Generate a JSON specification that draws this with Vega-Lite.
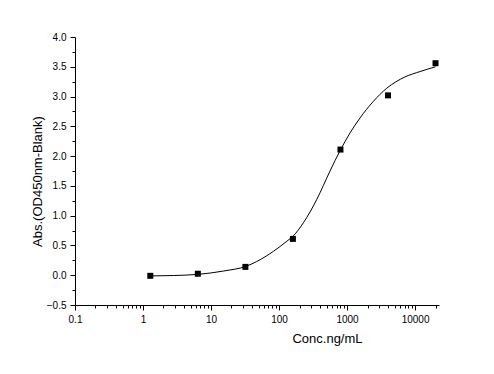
{
  "$schema": "https://vega.github.io/schema/vega-lite/v6.json",
  "autosize": {"type": "none"},
  "padding": {"left": 75, "top": 37, "right": 55, "bottom": 69},
  "width": 364,
  "height": 268,
  "background": "white",
  "config": {
    "view": {"stroke": null},
    "font": "Liberation Sans",
    "axis": {
      "grid": false,
      "domainColor": "black",
      "tickColor": "black",
      "labelColor": "black",
      "titleColor": "black",
      "labelFont": "Liberation Sans",
      "titleFont": "Liberation Sans",
      "labelFontSize": 10,
      "titleFontSize": 13,
      "titleFontWeight": "normal",
      "domainWidth": 1,
      "tickWidth": 1
    }
  },
  "datasets": {
    "points": [
      {"conc": 1.28, "abs": -0.01},
      {"conc": 6.4, "abs": 0.025},
      {"conc": 32, "abs": 0.14},
      {"conc": 160, "abs": 0.61},
      {"conc": 800, "abs": 2.11},
      {"conc": 4000, "abs": 3.02},
      {"conc": 20000, "abs": 3.56}
    ],
    "curve": [
      {"conc": 1.28, "abs": -0.012},
      {"conc": 2.8, "abs": -0.005},
      {"conc": 6.5, "abs": 0.015},
      {"conc": 15.2, "abs": 0.07},
      {"conc": 32.7, "abs": 0.15},
      {"conc": 47, "abs": 0.23},
      {"conc": 82.4, "abs": 0.4},
      {"conc": 130, "abs": 0.57},
      {"conc": 162, "abs": 0.66},
      {"conc": 228, "abs": 0.88},
      {"conc": 358, "abs": 1.27},
      {"conc": 562, "abs": 1.75},
      {"conc": 789, "abs": 2.09},
      {"conc": 1107, "abs": 2.39},
      {"conc": 1552, "abs": 2.64},
      {"conc": 2440, "abs": 2.92},
      {"conc": 3840, "abs": 3.14},
      {"conc": 7130, "abs": 3.33},
      {"conc": 11860, "abs": 3.42},
      {"conc": 20000, "abs": 3.5}
    ]
  },
  "encoding": {
    "x": {
      "field": "conc",
      "type": "quantitative",
      "scale": {"type": "log", "domain": [0.1, 22500], "nice": false},
      "axis": {
        "title": "Conc.ng/mL",
        "titleX": 252,
        "titleY": 27,
        "titleBaseline": "top",
        "titleAnchor": "middle",
        "values": [0.1, 0.2, 0.3, 0.4, 0.5, 0.6, 0.7, 0.8, 0.9, 1, 2, 3, 4, 5, 6, 7, 8, 9, 10, 20, 30, 40, 50, 60, 70, 80, 90, 100, 200, 300, 400, 500, 600, 700, 800, 900, 1000, 2000, 3000, 4000, 5000, 6000, 7000, 8000, 9000, 10000, 20000],
        "labelExpr": "indexof([0.1, 1, 10, 100, 1000, 10000], datum.value) >= 0 ? format(datum.value, '~g') : ''",
        "tickSize": {"condition": {"test": "indexof([0.1, 1, 10, 100, 1000, 10000], datum.value) >= 0", "value": 5}, "value": 3},
        "labelPadding": 4,
        "labelFlush": false,
        "labelOverlap": false
      }
    },
    "y": {
      "field": "abs",
      "type": "quantitative",
      "scale": {"domain": [-0.5, 4], "nice": false, "zero": false},
      "axis": {
        "title": "Abs.(OD450nm-Blank)",
        "titleX": -38,
        "titleY": 144,
        "titleBaseline": "middle",
        "titleAnchor": "middle",
        "titleAngle": -90,
        "values": [-0.5, -0.25, 0, 0.25, 0.5, 0.75, 1, 1.25, 1.5, 1.75, 2, 2.25, 2.5, 2.75, 3, 3.25, 3.5, 3.75, 4],
        "labelExpr": "datum.value % 0.5 == 0 ? format(datum.value, '.1f') : ''",
        "tickSize": {"condition": {"test": "datum.value % 0.5 == 0", "value": 5}, "value": 3},
        "labelPadding": 4,
        "labelFlush": false,
        "labelOverlap": false
      }
    }
  },
  "layer": [
    {
      "data": {"name": "curve"},
      "mark": {"type": "line", "color": "black", "strokeWidth": 1, "interpolate": "monotone"}
    },
    {
      "data": {"name": "points"},
      "mark": {"type": "square", "color": "black", "filled": true, "opacity": 1, "size": 36}
    }
  ]
}
